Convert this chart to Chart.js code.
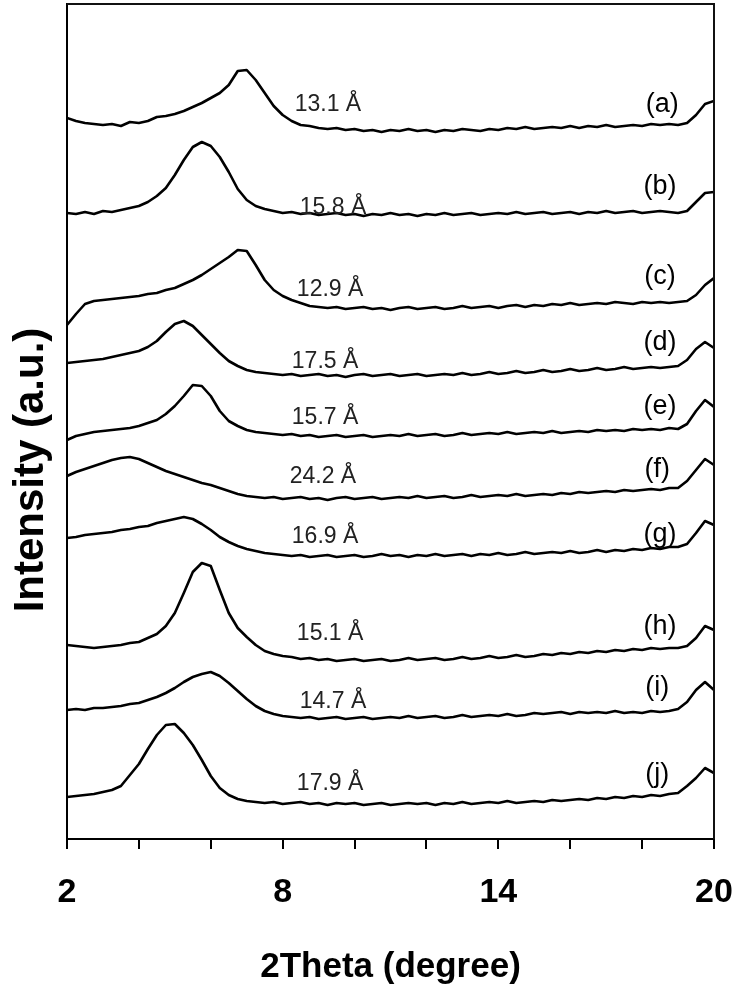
<!DOCTYPE html>
<html>
<head>
<meta charset="utf-8">
<script src="https://cdn.jsdelivr.net/npm/chart.js@4.4.1/dist/chart.umd.min.js"></script>
<style>
  html, body { margin: 0; padding: 0; background: #fff; }
  #wrap { width: 736px; height: 988px; }
</style>
</head>
<body>
<div id="wrap"><canvas id="xrd"></canvas></div>
<script>
// 2theta grid (degree)
const twoTheta = [2,2.25,2.5,2.75,3,3.25,3.5,3.75,4,4.25,4.5,4.75,5,5.25,5.5,5.75,6,6.25,6.5,6.75,7,7.25,7.5,7.75,
  8,8.25,8.5,8.75,9,9.25,9.5,9.75,10,10.25,10.5,10.75,11,11.25,11.5,11.75,12,12.25,12.5,12.75,13,13.25,13.5,13.75,
  14,14.25,14.5,14.75,15,15.25,15.5,15.75,16,16.25,16.5,16.75,17,17.25,17.5,17.75,18,18.25,18.5,18.75,19,19.25,19.5,19.75,20];

// stacked patterns, intensity (a.u.) incl. offset
const curveA = [721,718,716,715,714,715,713,717,716,718,722,723,
  725,728,732,736,741,746,754,768,769,759,746,733,
  724,718,714,713,711,710,711,709,710,708,709,707,
  709,708,710,708,709,707,709,708,710,709,708,710,
  709,711,710,712,710,711,712,711,713,711,713,712,
  714,712,713,714,713,715,714,715,714,716,724,735,738];
const curveB = [626,625,627,625,628,627,629,631,633,637,643,651,
  664,679,692,697,693,682,667,650,639,633,630,628,
  626,627,625,626,624,625,626,624,625,623,625,624,
  626,624,625,623,625,624,626,624,625,626,624,625,
  626,625,627,625,626,627,625,626,627,625,627,626,
  628,626,627,628,626,627,628,627,626,628,637,646,647];
const curveC = [514,525,535,538,539,540,541,542,543,545,546,549,
  551,555,559,564,570,576,582,589,588,574,559,549,
  543,539,536,533,532,531,532,530,531,532,530,531,
  529,531,532,530,531,532,530,531,533,531,532,533,
  531,533,534,532,534,533,535,534,536,534,535,536,
  535,537,536,535,537,536,537,536,537,538,544,554,561];
const curveD = [476,477,478,479,480,482,484,486,488,492,498,507,
  515,518,513,504,495,486,478,473,469,467,466,465,
  464,465,463,464,465,463,464,462,464,465,463,464,
  465,463,464,465,463,464,465,464,466,464,465,467,
  465,466,468,466,467,469,467,468,470,468,469,471,
  469,470,472,470,471,472,471,472,473,479,490,497,491];
const curveE = [399,403,405,407,408,409,410,411,413,416,419,425,
  433,443,454,453,443,428,418,413,409,407,406,405,
  404,405,403,404,402,403,404,402,403,404,402,403,
  404,403,405,403,404,405,403,404,406,404,405,406,
  405,407,405,406,407,406,408,406,407,408,407,409,
  408,409,408,410,409,410,409,411,410,415,428,439,432];
const curveF = [363,367,370,373,376,379,381,382,380,376,372,368,
  365,362,359,356,354,351,348,345,343,342,341,342,
  340,341,342,340,341,339,341,342,340,341,342,340,
  341,342,341,343,341,342,343,341,342,344,342,343,
  344,343,345,343,344,345,344,346,345,347,346,347,
  348,347,349,348,349,350,349,351,351,358,369,380,374];
const curveG = [301,302,304,305,306,307,309,310,312,313,316,318,
  320,322,320,315,309,302,297,293,290,288,286,285,
  284,283,284,282,283,284,282,283,284,282,283,285,
  283,284,282,284,283,285,283,284,285,283,285,284,
  286,284,285,287,285,286,287,286,288,286,287,289,
  287,289,288,290,289,291,290,292,292,295,306,318,314];
const curveH = [194,193,192,191,192,193,194,196,197,201,205,213,
  226,246,267,276,273,249,226,211,202,194,188,185,
  183,182,180,181,179,180,178,179,180,178,179,180,
  178,179,181,179,180,181,179,180,182,180,181,183,
  181,182,184,182,183,185,184,186,185,187,186,188,
  187,189,188,190,189,191,190,191,191,193,201,213,209];
const curveI = [129,130,129,131,131,132,133,135,136,139,142,146,
  151,157,162,165,167,163,156,148,140,133,128,125,
  123,122,121,122,120,121,122,120,121,122,120,121,
  122,121,123,121,122,123,121,122,124,122,123,124,
  123,125,123,124,126,125,126,127,125,127,126,127,
  126,128,126,127,126,128,127,128,130,137,149,157,149];
const curveJ = [42,43,44,45,47,49,53,64,75,90,104,114,
  115,106,94,79,63,51,44,40,38,37,36,37,
  35,36,37,35,36,34,36,35,36,34,35,36,
  34,35,36,35,36,34,36,35,37,35,36,37,
  36,38,36,37,38,37,39,38,39,40,39,41,
  40,42,41,43,42,44,43,45,46,53,61,71,66];

const curves = [curveA, curveB, curveC, curveD, curveE, curveF, curveG, curveH, curveI, curveJ];
const curveNames = ['(a)','(b)','(c)','(d)','(e)','(f)','(g)','(h)','(i)','(j)'];
const dSpacings = ['13.1 Å','15.8 Å','12.9 Å','17.5 Å','15.7 Å','24.2 Å','16.9 Å','15.1 Å','14.7 Å','17.9 Å'];
const xTickLabels = [2, 8, 14, 20];

// where the texts sit, in (2theta, intensity)
const nameAt = [[18.56,734],[18.5,652],[18.5,562],[18.5,496],[18.5,432],[18.42,369],[18.5,304],[18.5,212],[18.42,151],[18.42,64]];
const spacingAt = [[9.26,734],[9.4,631],[9.32,549],[9.18,477],[9.18,421],[9.12,362],[9.18,302],[9.32,205],[9.4,137],[9.32,55]];

const datasets = curves.map((c, k) => ({
  label: curveNames[k],
  data: c.map((v, i) => ({ x: twoTheta[i], y: v })),
  borderColor: '#000',
  borderWidth: 2.6,
  pointRadius: 0,
  tension: 0,
  borderJoinStyle: 'round',
}));

const labelPlugin = {
  id: 'labels',
  afterDatasetsDraw(chart) {
    const { ctx, scales: { x, y } } = chart;
    ctx.save();
    ctx.textAlign = 'center';
    ctx.textBaseline = 'middle';
    ctx.fillStyle = '#222';
    ctx.font = '23px "Liberation Sans", Arial, sans-serif';
    dSpacings.forEach((t, k) => {
      ctx.fillText(t, x.getPixelForValue(spacingAt[k][0]), y.getPixelForValue(spacingAt[k][1]));
    });
    ctx.fillStyle = '#000';
    ctx.font = '27px "Liberation Sans", Arial, sans-serif';
    curveNames.forEach((t, k) => {
      ctx.fillText(t, x.getPixelForValue(nameAt[k][0]), y.getPixelForValue(nameAt[k][1]));
    });
    ctx.restore();
  }
};

const framePlugin = {
  id: 'frame',
  afterDraw(chart) {
    const { ctx, chartArea: a } = chart;
    ctx.save();
    ctx.strokeStyle = '#111';
    ctx.lineWidth = 2;
    ctx.beginPath();
    ctx.moveTo(a.left, a.top);
    ctx.lineTo(a.right, a.top);
    ctx.lineTo(a.right, a.bottom);
    ctx.stroke();
    // y axis title
    ctx.translate(31, 470);
    ctx.rotate(-Math.PI / 2);
    ctx.textAlign = 'center';
    ctx.textBaseline = 'middle';
    ctx.fillStyle = '#000';
    ctx.font = 'bold 42px "Liberation Sans", Arial, sans-serif';
    ctx.fillText('Intensity (a.u.)', 0, 0);
    ctx.restore();
  }
};

new Chart(document.getElementById('xrd'), {
  type: 'line',
  data: { datasets },
  plugins: [labelPlugin, framePlugin],
  options: {
    responsive: true,
    maintainAspectRatio: false,
    animation: false,
    layout: { padding: { left: 0, right: 22, top: 4, bottom: 0 } },
    plugins: { legend: { display: false }, tooltip: { enabled: false } },
    scales: {
      x: {
        type: 'linear',
        min: 2,
        max: 20,
        afterFit(s) { s.height = 149; s.paddingLeft = 0; s.paddingRight = 0; },
        border: { display: true, color: '#000', width: 2 },
        grid: { drawOnChartArea: false, drawTicks: true, tickLength: 10, color: '#000', lineWidth: 2 },
        ticks: {
          stepSize: 2,
          autoSkip: false,
          maxRotation: 0,
          padding: 23,
          color: '#000',
          font: { family: '"Liberation Sans", Arial', size: 34, weight: 'bold' },
          callback: v => xTickLabels.includes(v) ? String(v) : '',
        },
        title: {
          display: true,
          text: '2Theta (degree)',
          color: '#000',
          padding: { top: 0, bottom: 0 },
          font: { family: '"Liberation Sans", Arial', size: 35, weight: 'bold' },
        },
      },
      y: {
        min: 0,
        max: 835,
        afterFit(s) { s.width = 67; s.paddingTop = 0; s.paddingBottom = 0; },
        border: { display: true, color: '#000', width: 2 },
        grid: { display: false },
        ticks: { display: false },
      },
    },
  },
});
</script>
</body>
</html>
